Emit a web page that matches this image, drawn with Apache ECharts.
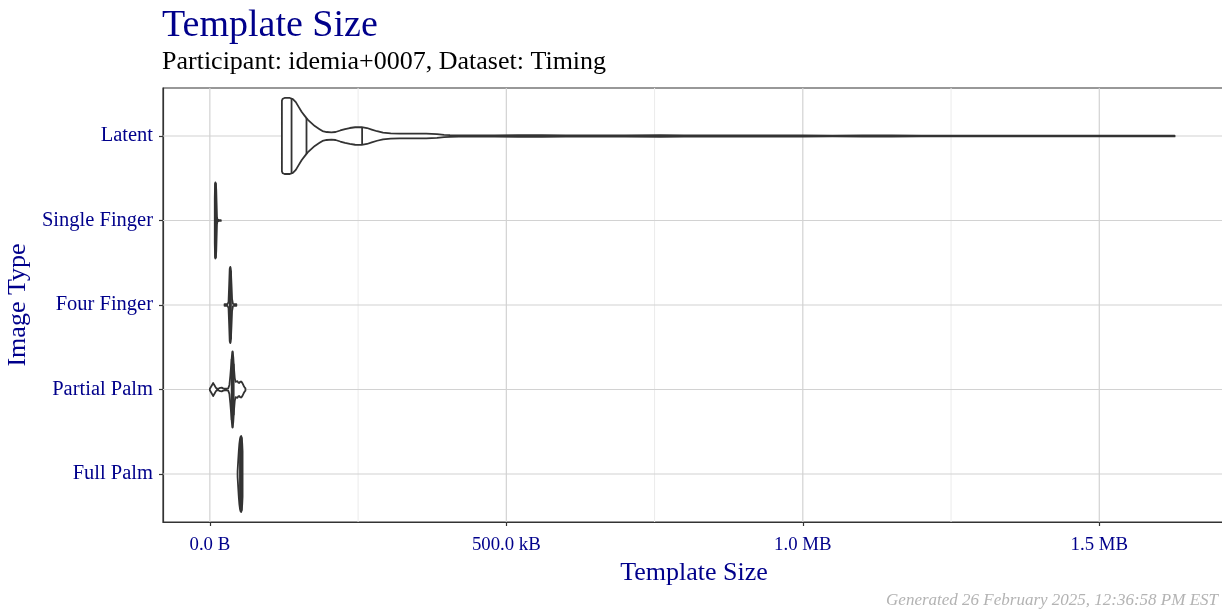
<!DOCTYPE html>
<html>
<head>
<meta charset="utf-8">
<script src="https://cdn.jsdelivr.net/npm/echarts@6/dist/echarts.min.js"></script>
<style>html,body{margin:0;padding:0;background:#fff}#c{width:1222px;height:611px}</style>
</head>
<body>
<div id="c"></div>
<script>
// ---- data (template size in kB) ----
const categories = ['Full Palm', 'Partial Palm', 'Four Finger', 'Single Finger', 'Latent'];
const xTickValues = [0, 500, 1000, 1500];
const xTickLabels = ['0.0 B', '500.0 kB', '1.0 MB', '1.5 MB'];
const xMinorValues = [250, 750, 1250];

// violin density profiles: sizes (kB) and relative density (1 = widest)
const latentSizes = [121.5, 123, 126, 130, 135, 140, 145, 150, 155, 160, 165, 170, 177, 185, 190, 197, 205, 212, 220, 228, 236, 245, 256, 265, 273, 282, 292, 305, 320, 335, 350, 365, 383, 395, 405, 420, 450, 480, 520, 560, 600, 650, 700, 760, 800, 850, 900, 960, 1000, 1050, 1100, 1150, 1200, 1250, 1300, 1350, 1400, 1450, 1500, 1550, 1600, 1627];
const latentDensity = [0.93, 0.98, 1.0, 1.0, 1.0, 0.97, 0.89, 0.76, 0.63, 0.53, 0.43, 0.36, 0.26, 0.18, 0.13, 0.105, 0.097, 0.105, 0.145, 0.18, 0.21, 0.23, 0.235, 0.21, 0.17, 0.125, 0.087, 0.068, 0.06, 0.06, 0.063, 0.06, 0.047, 0.032, 0.024, 0.018, 0.016, 0.016, 0.02, 0.022, 0.016, 0.014, 0.018, 0.02, 0.015, 0.014, 0.016, 0.018, 0.014, 0.012, 0.016, 0.014, 0.012, 0.012, 0.012, 0.01, 0.012, 0.01, 0.01, 0.01, 0.01, 0.01];
const latentQuantiles = [137.8, 163, 256.8];

const singleSizes = [8.3, 8.8, 9.4, 10.1, 10.8, 11.4, 12.0, 12.8, 13.5, 14.5, 15.5, 16.5, 17.5, 18.5];
const singleDensity = [0.6, 0.95, 1.0, 0.97, 0.8, 0.45, 0.1, 0.02, 0.015, 0.015, 0.012, 0.012, 0.01, 0.01];
const singleQuantiles = [9.3, 9.9, 10.5];

const fourSizes = [24.8, 26, 28, 30, 31.5, 32.5, 33.5, 34.5, 35.5, 36.5, 37.5, 39, 41, 43, 44.7];
const fourDensity = [0.02, 0.02, 0.02, 0.025, 0.08, 0.5, 0.95, 1.0, 0.9, 0.55, 0.15, 0.03, 0.02, 0.02, 0.02];
const fourQuantiles = [33.8, 34.6, 35.5];

const partialSizes = [0, 1.5, 3, 4.5, 5.6, 7, 8.5, 10, 11.3, 13, 15, 17.5, 20, 22.5, 25, 28, 31, 33, 34.5, 36, 37.2, 38.3, 39.5, 40.7, 42, 43.5, 45, 46.5, 48, 49.5, 51, 52.5, 54, 55.5, 57, 58.5, 60];
const partialDensity = [0.02, 0.06, 0.1, 0.14, 0.17, 0.13, 0.09, 0.05, 0.025, 0.02, 0.025, 0.045, 0.05, 0.03, 0.02, 0.02, 0.03, 0.12, 0.35, 0.65, 0.88, 1.0, 0.85, 0.55, 0.3, 0.2, 0.21, 0.22, 0.18, 0.17, 0.2, 0.21, 0.19, 0.15, 0.1, 0.06, 0.03];
const partialQuantiles = [36.8, 38.3, 40.2];

const fullSizes = [46.8, 47.8, 48.8, 49.8, 50.8, 51.8, 52.8, 53.8, 54.6, 55.2];
const fullDensity = [0.08, 0.35, 0.6, 0.8, 0.92, 0.98, 1.0, 0.95, 0.8, 0.6];
const fullQuantiles = [50.8, 52.3, 53.6];

const violins = [
  { sizes: fullSizes, density: fullDensity, q: fullQuantiles },
  { sizes: partialSizes, density: partialDensity, q: partialQuantiles },
  { sizes: fourSizes, density: fourDensity, q: fourQuantiles },
  { sizes: singleSizes, density: singleDensity, q: singleQuantiles },
  { sizes: latentSizes, density: latentDensity, q: latentQuantiles }
];

const HALF = 0.45;
const FONT = '"Liberation Serif", "DejaVu Serif", serif';
const BLUE = '#00008B';

function interp(xs, ys, x) {
  for (let i = 1; i < xs.length; i++) {
    if (x <= xs[i]) {
      const t = (x - xs[i - 1]) / (xs[i] - xs[i - 1]);
      return ys[i - 1] + t * (ys[i] - ys[i - 1]);
    }
  }
  return ys[ys.length - 1];
}

function renderViolin(params, api) {
  const idx = params.dataIndex;
  const v = violins[idx];
  const pos = idx + 1;
  const top = [], bot = [];
  for (let i = 0; i < v.sizes.length; i++) {
    top.push(api.coord([v.sizes[i], pos + v.density[i] * HALF]));
    bot.push(api.coord([v.sizes[i], pos - v.density[i] * HALF]));
  }
  const pts = top.concat(bot.reverse());
  const children = [{
    type: 'polygon',
    shape: { points: pts },
    style: { fill: '#ffffff', stroke: '#333333', lineWidth: 1.8, lineJoin: 'round' }
  }];
  v.q.forEach(function (qv) {
    const d = interp(v.sizes, v.density, qv);
    const a = api.coord([qv, pos + d * HALF]);
    const b = api.coord([qv, pos - d * HALF]);
    children.push({
      type: 'line',
      shape: { x1: a[0], y1: a[1], x2: b[0], y2: b[1] },
      style: { stroke: '#333333', lineWidth: 1.8 }
    });
  });
  return { type: 'group', children: children };
}

function renderGrid(params, api) {
  const cs = params.coordSys;
  const children = [];
  xMinorValues.forEach(function (v) {
    const x = api.coord([v, 1])[0];
    children.push({ type: 'line', shape: { x1: x, y1: cs.y, x2: x, y2: cs.y + cs.height }, style: { stroke: '#ebebeb', lineWidth: 1 } });
  });
  xTickValues.forEach(function (v) {
    const x = api.coord([v, 1])[0];
    children.push({ type: 'line', shape: { x1: x, y1: cs.y, x2: x, y2: cs.y + cs.height }, style: { stroke: '#d2d2d2', lineWidth: 1.2 } });
  });
  categories.forEach(function (c, i) {
    const y = api.coord([0, i + 1])[1];
    children.push({ type: 'line', shape: { x1: cs.x, y1: y, x2: cs.x + cs.width, y2: y }, style: { stroke: '#d2d2d2', lineWidth: 1.2 } });
  });
  return { type: 'group', children: children };
}

const chart = echarts.init(document.getElementById('c'), null, { renderer: 'canvas' });
chart.setOption({
  animation: false,
  backgroundColor: '#ffffff',
  title: [
    { text: 'Template Size', left: 157, top: 2, textStyle: { fontFamily: FONT, fontSize: 38, fontWeight: 'normal', color: BLUE } },
    { text: 'Participant: idemia+0007, Dataset: Timing', left: 157, top: 44, textStyle: { fontFamily: FONT, fontSize: 26, fontWeight: 'normal', color: '#000000' } }
  ],
  grid: { left: 163, right: -3, top: 88, bottom: 89, outerBoundsMode: 'none', containLabel: false, show: true, borderColor: '#333333', borderWidth: 1.2, backgroundColor: 'transparent' },
  xAxis: {
    type: 'value', min: -79, max: 1712,
    name: 'Template Size', nameLocation: 'middle', nameGap: 34,
    nameTextStyle: { fontFamily: FONT, fontSize: 26, color: BLUE },
    axisLine: { show: true, onZero: false, lineStyle: { color: '#333333', width: 1.2 } },
    axisTick: { show: true, length: 4, customValues: xTickValues, lineStyle: { color: '#333333', width: 1.2 } },
    axisLabel: { customValues: xTickValues, fontFamily: FONT, fontSize: 18.8, color: BLUE, margin: 14,
      formatter: function (v) { const i = xTickValues.indexOf(v); return i >= 0 ? xTickLabels[i] : ''; } },
    splitLine: { show: false }
  },
  yAxis: {
    type: 'value', min: 0.432, max: 5.568,
    name: 'Image Type', nameLocation: 'middle', nameGap: 127, nameRotate: 90,
    nameTextStyle: { fontFamily: FONT, fontSize: 26, color: BLUE },
    axisLine: { show: true, onZero: false, lineStyle: { color: '#333333', width: 1.2 } },
    axisTick: { show: true, length: 4, customValues: [1, 2, 3, 4, 5], lineStyle: { color: '#333333', width: 1.2 } },
    axisLabel: { customValues: [1, 2, 3, 4, 5], fontFamily: FONT, fontSize: 20.5, color: BLUE, margin: 10,
      formatter: function (v) { return categories[Math.round(v) - 1] || ''; } },
    splitLine: { show: false }
  },
  graphic: [{
    type: 'text', right: 4, top: 592,
    style: { text: 'Generated 26 February 2025, 12:36:58 PM EST', font: 'italic 17px ' + FONT, fill: '#b3b3b3' }
  }],
  series: [
    { type: 'custom', z: 1, silent: true, renderItem: renderGrid, data: [[0, 1]], encode: { x: 0, y: 1 } },
    { type: 'custom', z: 2, renderItem: renderViolin,
      data: categories.map(function (c, i) { return [0, i + 1]; }), encode: { x: 0, y: 1 } }
  ]
});
</script>
</body>
</html>
